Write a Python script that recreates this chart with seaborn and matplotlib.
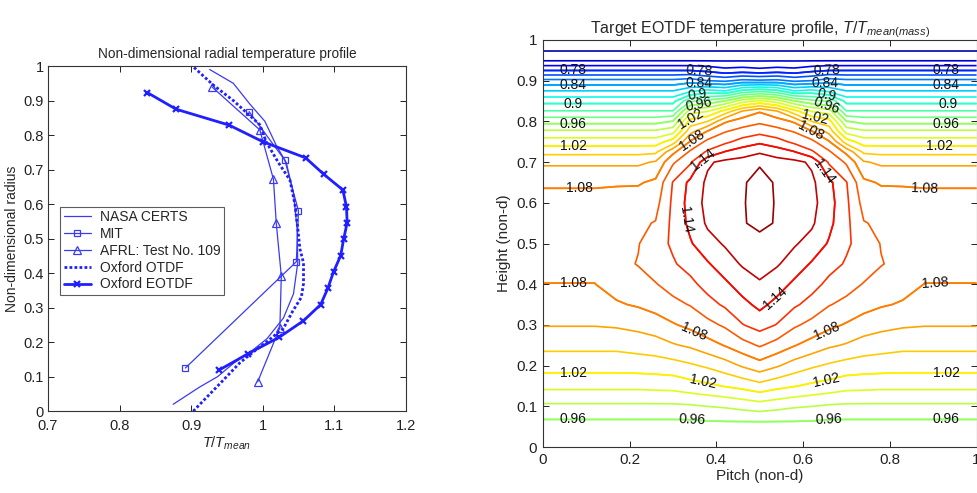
import numpy as np
import pandas as pd
import matplotlib
matplotlib.use("Agg")
import matplotlib.pyplot as plt
import seaborn as sns
from matplotlib.ticker import FuncFormatter

# ---------------- Left panel: radial temperature profiles ----------------
nasa_x = [0.875, 0.912, 0.937, 0.960, 0.985, 1.006, 1.029, 1.043, 1.049, 1.048, 1.043, 1.033, 1.019, 1.003, 0.982, 0.959, 0.926]
nasa_y = [0.02, 0.07, 0.10, 0.14, 0.175, 0.21, 0.27, 0.34, 0.43, 0.53, 0.63, 0.72, 0.77, 0.84, 0.89, 0.95, 0.99]

mit_x = [0.892, 1.047, 1.050, 1.031, 0.981]
mit_y = [0.125, 0.433, 0.580, 0.727, 0.868]

afrl_x = [0.993, 1.024, 1.026, 1.019, 1.015, 0.996, 0.929]
afrl_y = [0.085, 0.242, 0.392, 0.544, 0.672, 0.815, 0.940]

otdf_x = [0.903, 0.945, 0.968, 0.992, 1.005, 1.029, 1.042, 1.054, 1.057, 1.057, 1.052, 1.049, 1.045, 1.038, 1.022, 1.005, 0.996, 0.959, 0.931, 0.902]
otdf_y = [0.0, 0.09, 0.14, 0.18, 0.20, 0.24, 0.29, 0.33, 0.37, 0.43, 0.47, 0.53, 0.60, 0.67, 0.72, 0.78, 0.83, 0.90, 0.945, 1.0]

eotdf_x = [0.839, 0.879, 0.953, 1.000, 1.060, 1.085, 1.112, 1.117, 1.118, 1.113, 1.109, 1.099, 1.091, 1.081, 1.057, 1.023, 0.980, 0.939]
eotdf_y = [0.923, 0.875, 0.829, 0.781, 0.734, 0.687, 0.641, 0.592, 0.546, 0.498, 0.451, 0.404, 0.356, 0.309, 0.262, 0.214, 0.167, 0.119]

left_xticks = [0.7, 0.8, 0.9, 1.0, 1.1, 1.2]
left_yticks = [0, 0.1, 0.2, 0.3, 0.4, 0.5, 0.6, 0.7, 0.8, 0.9, 1.0]

# ---------------- Right panel: target EOTDF field ----------------
heights = [0.0, 0.05, 0.10, 0.15, 0.20, 0.25, 0.30, 0.35, 0.40, 0.45, 0.50, 0.55, 0.60,
           0.65, 0.70, 0.725, 0.75, 0.775, 0.80, 0.825, 0.85, 0.875, 0.90, 0.925, 0.95, 1.0]
pitch = [0.0, 0.12, 0.17, 0.22, 0.26, 0.30, 0.34, 0.38, 0.42, 0.46, 0.50,
         0.54, 0.58, 0.62, 0.66, 0.70, 0.74, 0.78, 0.83, 0.88, 1.0]

# temperature columns (T/Tmean) for pitch 0 ... 0.5 (field is symmetric about 0.5)
col_p000 = [0.945, 0.951, 0.976, 1.005, 1.028, 1.045, 1.061, 1.070, 1.0797, 1.085, 1.089, 1.088, 1.085, 1.078, 1.056, 1.034, 1.010, 0.984, 0.953, 0.921, 0.893, 0.860, 0.825, 0.780, 0.738, 0.700]
col_p012 = [0.945, 0.951, 0.976, 1.005, 1.028, 1.045, 1.061, 1.070, 1.0797, 1.085, 1.089, 1.088, 1.085, 1.078, 1.056, 1.034, 1.010, 0.984, 0.953, 0.921, 0.893, 0.860, 0.825, 0.780, 0.738, 0.700]
col_p017 = [0.945, 0.951, 0.976, 1.005, 1.028, 1.045, 1.0625, 1.078, 1.087, 1.094, 1.096, 1.094, 1.088, 1.078, 1.056, 1.034, 1.010, 0.984, 0.953, 0.921, 0.893, 0.860, 0.825, 0.780, 0.738, 0.700]
col_p022 = [0.945, 0.951, 0.976, 1.005, 1.029, 1.048, 1.066, 1.082, 1.092, 1.101, 1.099, 1.097, 1.090, 1.078, 1.056, 1.034, 1.010, 0.984, 0.953, 0.921, 0.893, 0.860, 0.825, 0.780, 0.738, 0.700]
col_p026 = [0.945, 0.951, 0.976, 1.006, 1.030, 1.051, 1.071, 1.087, 1.099, 1.109, 1.112, 1.101, 1.093, 1.084, 1.062, 1.036, 1.010, 0.984, 0.953, 0.921, 0.893, 0.860, 0.825, 0.780, 0.738, 0.700]
col_p030 = [0.945, 0.951, 0.976, 1.007, 1.032, 1.058, 1.078, 1.095, 1.107, 1.118, 1.123, 1.125, 1.124, 1.121, 1.097, 1.075, 1.030, 0.993, 0.961, 0.921, 0.893, 0.860, 0.825, 0.780, 0.738, 0.700]
col_p034 = [0.945, 0.951, 0.977, 1.012, 1.037, 1.063, 1.085, 1.101, 1.115, 1.127, 1.138, 1.145, 1.148, 1.145, 1.117, 1.103, 1.082, 1.053, 1.028, 0.990, 0.937, 0.875, 0.830, 0.780, 0.738, 0.700]
col_p038 = [0.945, 0.952, 0.980, 1.016, 1.043, 1.072, 1.094, 1.113, 1.127, 1.138, 1.153, 1.163, 1.166, 1.164, 1.157, 1.123, 1.105, 1.082, 1.040, 0.999, 0.946, 0.886, 0.820, 0.775, 0.738, 0.700]
col_p042 = [0.945, 0.952, 0.982, 1.021, 1.051, 1.081, 1.103, 1.123, 1.136, 1.151, 1.162, 1.169, 1.173, 1.172, 1.165, 1.141, 1.115, 1.099, 1.077, 1.027, 0.961, 0.880, 0.816, 0.767, 0.738, 0.700]
col_p046 = [0.945, 0.951, 0.986, 1.026, 1.062, 1.092, 1.119, 1.134, 1.149, 1.162, 1.171, 1.179, 1.178, 1.178, 1.168, 1.150, 1.128, 1.107, 1.090, 1.061, 0.990, 0.905, 0.825, 0.770, 0.738, 0.700]
col_p050 = [0.945, 0.950, 0.990, 1.033, 1.072, 1.102, 1.128, 1.145, 1.158, 1.167, 1.176, 1.183, 1.189, 1.186, 1.178, 1.157, 1.136, 1.114, 1.096, 1.078, 1.005, 0.914, 0.823, 0.766, 0.738, 0.700]

label_levels = [0.78, 0.84, 0.90, 0.96, 1.02, 1.08, 1.14]
right_xticks = [0, 0.2, 0.4, 0.6, 0.8, 1.0]
right_yticks = [0, 0.1, 0.2, 0.3, 0.4, 0.5, 0.6, 0.7, 0.8, 0.9, 1.0]

# ---------------- Styling ----------------
sns.set_theme(style="white")
plt.rcParams["font.family"] = ["Liberation Sans", "DejaVu Sans"]
plt.rcParams["mathtext.fontset"] = "custom"
plt.rcParams["mathtext.rm"] = "Liberation Sans"
plt.rcParams["mathtext.it"] = "Liberation Sans:italic"
plt.rcParams["axes.edgecolor"] = "#333333"
plt.rcParams["axes.linewidth"] = 0.8

BLUE = "#1f1fff"
THIN = "#3a3af5"

fig = plt.figure(figsize=(9.78, 4.93), dpi=100)
ax1 = fig.add_axes([0.049, 0.166, 0.366, 0.700])
ax2 = fig.add_axes([0.555, 0.093, 0.4435, 0.826])

fmt_g = FuncFormatter(lambda v, p: f"{round(v, 3):g}")

# Left panel lines
series = [
    ("NASA CERTS", nasa_x, nasa_y, dict(color=THIN, lw=0.9)),
    ("MIT", mit_x, mit_y, dict(color=THIN, lw=0.9, marker="s", markersize=5,
                               markerfacecolor="none", markeredgecolor=THIN, markeredgewidth=0.9)),
    ("AFRL: Test No. 109", afrl_x, afrl_y, dict(color=THIN, lw=0.9, marker="^", markersize=6,
                                               markerfacecolor="none", markeredgecolor=THIN, markeredgewidth=0.9)),
    ("Oxford OTDF", otdf_x, otdf_y, dict(color=BLUE, lw=2.0, linestyle=(0, (1.0, 0.8)))),
    ("Oxford EOTDF", eotdf_x, eotdf_y, dict(color=BLUE, lw=2.0, marker="x", markersize=5,
                                           markeredgewidth=1.6, markeredgecolor=BLUE)),
]
for name, xs, ys, kw in series:
    df = pd.DataFrame({"T": xs, "r": ys})
    sns.lineplot(data=df, x="T", y="r", sort=False, estimator=None, ax=ax1, label=name, **kw)

ax1.set_xlim(0.7, 1.2)
ax1.set_ylim(0, 1)
ax1.set_xticks(left_xticks)
ax1.set_yticks(left_yticks)
ax1.xaxis.set_major_formatter(fmt_g)
ax1.yaxis.set_major_formatter(fmt_g)
ax1.tick_params(direction="in", length=4, width=0.7, top=True, right=True,
                bottom=True, left=True, labelsize=10.5, colors="#222222", pad=3)
ax1.tick_params(axis="x", pad=6)
ax1.set_title("Non-dimensional radial temperature profile", fontsize=9.8, pad=6)
ax1.set_xlabel(r"$T/T_{mean}$", fontsize=10.5, labelpad=1)
ax1.set_ylabel("Non-dimensional radius", fontsize=10, labelpad=3)
leg = ax1.legend(loc="upper left", bbox_to_anchor=(0.034, 0.592), frameon=True,
                 fancybox=False, edgecolor="#333333", fontsize=10, handlelength=2.0,
                 borderpad=0.25, labelspacing=0.2, handletextpad=0.6, borderaxespad=0)
leg.get_frame().set_linewidth(0.8)
for s in ax1.spines.values():
    s.set_visible(True)

# Right panel contours
half = np.array([col_p000, col_p012, col_p017, col_p022, col_p026, col_p030,
                 col_p034, col_p038, col_p042, col_p046, col_p050]).T
field = np.hstack([half, half[:, -2::-1]])
levels = np.round(np.arange(0.72, 1.1801, 0.02), 2)
cs = ax2.contour(pitch, heights, field, levels=levels, cmap="jet",
                 vmin=0.70, vmax=1.19, linewidths=1.2)
# labelled levels drawn again on top (identical lines) to carry the labels
cs_lab = ax2.contour(pitch, heights, field, levels=label_levels, cmap="jet",
                     vmin=0.70, vmax=1.19, linewidths=1.2)

label_pos = [
    (0.07, 0.925), (0.07, 0.89), (0.07, 0.845), (0.07, 0.80), (0.07, 0.74), (0.085, 0.632),
    (0.07, 0.40), (0.07, 0.178), (0.07, 0.07),
    (0.93, 0.925), (0.93, 0.89), (0.935, 0.845), (0.93, 0.80), (0.915, 0.74), (0.88, 0.632),
    (0.905, 0.40), (0.93, 0.178), (0.93, 0.07),
    (0.36, 0.925), (0.36, 0.90), (0.355, 0.877), (0.36, 0.85), (0.34, 0.81), (0.346, 0.75),
    (0.37, 0.705),
    (0.655, 0.925), (0.65, 0.90), (0.655, 0.875), (0.655, 0.845), (0.63, 0.819), (0.62, 0.783),
    (0.646, 0.676),
    (0.335, 0.558),
    (0.346, 0.28), (0.655, 0.285), (0.54, 0.36),
    (0.37, 0.16), (0.655, 0.16), (0.345, 0.065), (0.66, 0.07),
]
ax2.clabel(cs_lab, manual=label_pos, inline=False,
           fmt=lambda v: f"{round(v, 2):g}", fontsize=10, colors="#111111")

ax2.set_xlim(0, 1)
ax2.set_ylim(0, 1)
ax2.set_xticks(right_xticks)
ax2.set_yticks(right_yticks)
ax2.xaxis.set_major_formatter(fmt_g)
ax2.yaxis.set_major_formatter(fmt_g)
ax2.tick_params(direction="in", length=4, width=0.7, top=True, right=True,
                bottom=True, left=True, labelsize=11, colors="#222222", pad=4)
ax2.set_title(r"Target EOTDF temperature profile, $T/T_{mean(mass)}$", fontsize=11.5, pad=5)
ax2.set_xlabel("Pitch (non-d)", fontsize=11, labelpad=2)
ax2.set_ylabel("Height (non-d)", fontsize=11, labelpad=4)
for s in ax2.spines.values():
    s.set_visible(True)

fig.savefig("out.png", dpi=100, facecolor="white")
